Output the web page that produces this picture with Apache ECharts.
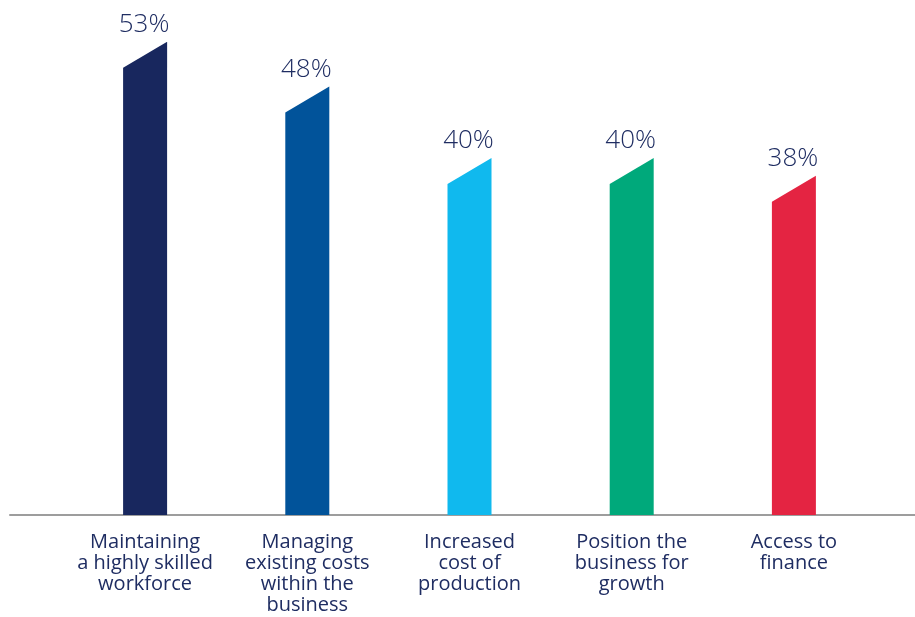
<!DOCTYPE html>
<html>
<head>
<meta charset="utf-8">
<script src="https://cdn.jsdelivr.net/npm/echarts@6/dist/echarts.min.js"></script>
<style>
html, body { margin: 0; padding: 0; background: #fff; }
#chart { width: 915px; height: 617px; }
</style>
</head>
<body>
<div id="chart"></div>
<script>
var categories = ['Maintaining\na highly skilled\nworkforce', 'Managing\nexisting costs\nwithin the\nbusiness', 'Increased\ncost of\nproduction', 'Position the\nbusiness for\ngrowth', 'Access to\nfinance'];
var values = [53, 48, 40, 40, 38];
var colors = ['#18275e', '#01539a', '#10b9ee', '#00a97b', '#e42442'];

var textColor = '#1f2d62';
var fontFamily = '"Open Sans", "Noto Sans", sans-serif';
var barWidth = 44;
var slant = 26;

var chart = echarts.init(document.getElementById('chart'));

var option = {
    animation: false,
    grid: [
        { left: 64, right: 40, top: 24, bottom: 102 },
        { left: 10, right: 0, top: 24, bottom: 102 }
    ],
    xAxis: [
        {
            type: 'category',
            gridIndex: 0,
            data: categories,
            axisLine: { show: false },
            axisTick: { show: false },
            axisLabel: {
                interval: 0,
                margin: 17,
                color: textColor,
                fontFamily: fontFamily,
                fontWeight: 400,
                fontSize: 20,
                lineHeight: 21,
                verticalAlign: 'top'
            }
        },
        {
            type: 'value',
            gridIndex: 1,
            min: 0,
            max: 1,
            axisLine: { show: true, lineStyle: { color: '#9d9d9d', width: 2 } },
            axisTick: { show: false },
            axisLabel: { show: false },
            splitLine: { show: false }
        }
    ],
    yAxis: [
        { type: 'value', gridIndex: 0, min: 0, max: 55, show: false },
        { type: 'value', gridIndex: 1, min: 0, max: 1, show: false }
    ],
    series: [
        {
            type: 'custom',
            xAxisIndex: 0,
            yAxisIndex: 0,
            data: values.map(function (v, i) { return [i, v]; }),
            renderItem: function (params, api) {
                var i = api.value(0);
                var top = api.coord([i, api.value(1)]);
                var base = api.coord([i, 0]);
                var cx = top[0];
                var l = cx - barWidth / 2;
                var r = cx + barWidth / 2;
                return {
                    type: 'group',
                    children: [
                        {
                            type: 'polygon',
                            shape: {
                                points: [[l, base[1]], [l, top[1] + slant], [r, top[1]], [r, base[1]]]
                            },
                            style: { fill: colors[i] }
                        },
                        {
                            type: 'text',
                            style: {
                                text: api.value(1) + '%',
                                x: cx - 1,
                                y: top[1] - 4,
                                align: 'center',
                                verticalAlign: 'bottom',
                                fill: textColor,
                                font: '300 26px ' + fontFamily
                            }
                        }
                    ]
                };
            }
        }
    ]
};

chart.setOption(option);
</script>
</body>
</html>
